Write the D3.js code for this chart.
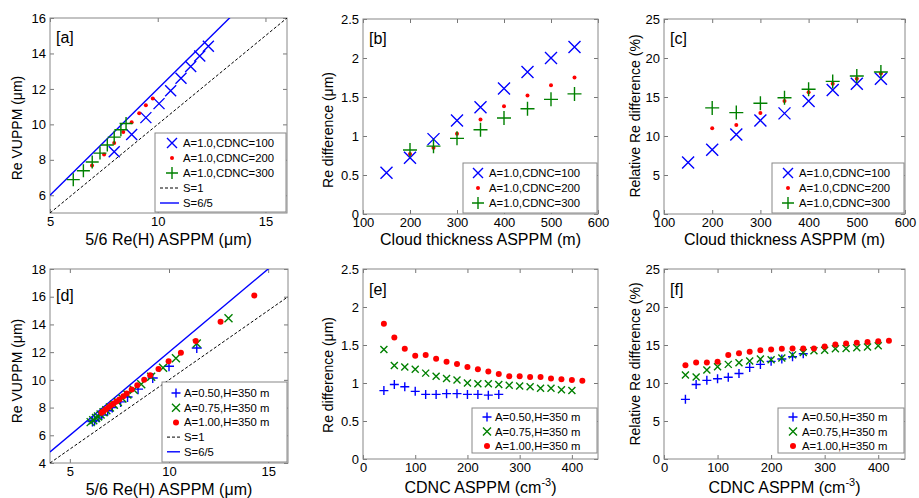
<!DOCTYPE html>
<html>
<head>
<meta charset="utf-8">
<script src="https://cdn.jsdelivr.net/npm/d3@7"></script>
<style>
  body { margin: 0; background: #fff; }
  svg { font-family: "Liberation Sans", Arial, sans-serif; }
</style>
</head>
<body>
<svg id="fig" width="919" height="498"></svg>
<script>
// ---- data ----
// top row: cloud thickness (m)
const thick100 = [150, 200, 250, 300, 350, 400, 450, 500, 550];
const thick200 = [200, 250, 300, 350, 400, 450, 500, 550];
const thick300 = [200, 250, 300, 350, 400, 450, 500, 550];

// [a] 5/6 Re(H) ASPPM vs Re VUPPM
const a100x = [7.98, 8.79, 9.45, 10.06, 10.60, 11.08, 11.53, 11.95, 12.35];
const a100y = [8.45, 9.43, 10.38, 11.17, 11.90, 12.60, 13.26, 13.85, 14.40];
const a200x = [6.95, 7.51, 7.98, 8.40, 8.79, 9.14, 9.45, 9.77];
const a200y = [7.68, 8.30, 8.95, 9.57, 10.12, 10.62, 11.08, 11.46];
const a300x = [6.08, 6.55, 6.96, 7.32, 7.66, 7.98, 8.29, 8.53];
const a300y = [6.88, 7.38, 7.88, 8.38, 8.84, 9.28, 9.70, 10.05];

// [b] Re difference (um)
const b100 = [0.53, 0.72, 0.96, 1.20, 1.37, 1.61, 1.82, 2.00, 2.14];
const b200 = [0.77, 0.85, 1.03, 1.21, 1.38, 1.52, 1.65, 1.75];
const b300 = [0.82, 0.87, 0.97, 1.08, 1.23, 1.35, 1.47, 1.54];

// [c] relative Re difference (%)
const c100 = [6.6, 8.25, 10.2, 12.0, 12.9, 14.5, 15.9, 16.7, 17.35];
const c200 = [11.0, 11.4, 12.95, 14.5, 15.6, 16.7, 17.35, 18.0];
const c300 = [13.6, 13.0, 14.2, 14.9, 16.0, 17.0, 17.7, 18.2];

// bottom row: CDNC (cm-3)
const cdnc50 = [40, 60, 80, 100, 120, 140, 160, 180, 200, 220, 240, 260];
const cdnc75 = [40, 60, 80, 100, 120, 140, 160, 180, 200, 220, 240, 260, 280, 300, 320, 340, 360, 380, 400];
const cdnc100 = [40, 60, 80, 100, 120, 140, 160, 180, 200, 220, 240, 260, 280, 300, 320, 340, 360, 380, 400, 420];

// [d]
const d50x = [11.40, 10.00, 9.18, 8.44, 7.91, 7.56, 7.14, 6.91, 6.61, 6.46, 6.25, 6.14];
const d50y = [12.30, 10.98, 10.13, 9.33, 8.76, 8.41, 8.00, 7.77, 7.46, 7.31, 7.09, 6.99];
const d75x = [13.00, 11.40, 10.35, 9.70, 9.10, 8.60, 8.22, 7.90, 7.65, 7.42, 7.22, 7.02, 6.84, 6.70, 6.55, 6.42, 6.32, 6.18, 6.05];
const d75y = [14.44, 12.63, 11.56, 10.88, 10.23, 9.69, 9.28, 8.94, 8.65, 8.41, 8.21, 8.00, 7.81, 7.66, 7.50, 7.35, 7.25, 7.09, 6.95];
const d100x = [14.30, 12.60, 11.35, 10.60, 9.98, 9.47, 9.05, 8.75, 8.40, 8.12, 7.87, 7.70, 7.50, 7.35, 7.20, 7.08, 6.96, 6.82, 6.70, 6.60];
const d100y = [16.08, 14.20, 12.80, 11.96, 11.35, 10.79, 10.33, 10.00, 9.61, 9.30, 9.02, 8.82, 8.59, 8.44, 8.28, 8.16, 8.02, 7.87, 7.74, 7.63];

// [e]
const e50 = [0.90, 0.98, 0.95, 0.89, 0.85, 0.85, 0.86, 0.86, 0.85, 0.85, 0.84, 0.85];
const e75 = [1.44, 1.23, 1.21, 1.18, 1.13, 1.09, 1.06, 1.04, 1.00, 0.99, 0.99, 0.98, 0.97, 0.96, 0.95, 0.93, 0.93, 0.91, 0.90];
const e100 = [1.78, 1.60, 1.45, 1.36, 1.37, 1.32, 1.28, 1.25, 1.21, 1.18, 1.15, 1.12, 1.09, 1.09, 1.08, 1.08, 1.06, 1.05, 1.04, 1.03];

// [f]
const f50 = [7.85, 9.8, 10.35, 10.55, 10.75, 11.25, 12.05, 12.45, 12.85, 13.15, 13.45, 13.85];
const f75 = [11.05, 10.8, 11.7, 12.15, 12.45, 12.65, 12.9, 13.15, 13.05, 13.3, 13.7, 14.0, 14.25, 14.3, 14.5, 14.55, 14.65, 14.75, 14.9];
const f100 = [12.35, 12.7, 12.7, 12.8, 13.7, 13.9, 14.1, 14.3, 14.4, 14.5, 14.55, 14.55, 14.55, 14.8, 15.05, 15.2, 15.3, 15.4, 15.5, 15.55];

// reference slopes (S=1, S=6/5)
const slopes = [1, 6 / 5];

// tick labels
const ticksA_x = [5, 10, 15], ticksA_y = [6, 8, 10, 12, 14, 16];
const ticksD_x = [5, 10, 15], ticksD_y = [4, 6, 8, 10, 12, 14, 16, 18];
const ticksThick = [100, 200, 300, 400, 500, 600];
const ticksCdnc = [0, 100, 200, 300, 400];
const ticksRe = [0, 0.5, 1, 1.5, 2, 2.5];
const ticksRel = [0, 5, 10, 15, 20, 25];

const legTop = ["A=1.0,CDNC=100", "A=1.0,CDNC=200", "A=1.0,CDNC=300"];
const legBot = ["A=0.50,H=350 m", "A=0.75,H=350 m", "A=1.00,H=350 m"];

const BLUE = "#0000ff", RED = "#ff0000", GREEN = "#008000";
const svg = d3.select("#fig");

function marker(g, type, cx, cy, s, color) {
    if (type === "x") {
        g.append("path").attr("d", `M${cx - s},${cy - s}L${cx + s},${cy + s}M${cx - s},${cy + s}L${cx + s},${cy - s}`)
            .attr("stroke", color).attr("stroke-width", 1.4).attr("fill", "none");
    } else if (type === "plus") {
        g.append("path").attr("d", `M${cx - s},${cy}L${cx + s},${cy}M${cx},${cy - s}L${cx},${cy + s}`)
            .attr("stroke", color).attr("stroke-width", 1.4).attr("fill", "none");
    } else {
        g.append("circle").attr("cx", cx).attr("cy", cy).attr("r", s).attr("fill", color);
    }
}

function panel(cfg, idx) {
    const { l, r, t, b } = cfg.box;
    const x = d3.scaleLinear().domain(cfg.xd).range([l, r]);
    const y = d3.scaleLinear().domain(cfg.yd).range([b, t]);
    const g = svg.append("g");

    // axes with inward ticks
    const fmt = d3.format("~g");
    g.append("g").attr("transform", `translate(0,${b})`)
        .call(d3.axisBottom(x).tickValues(cfg.xt).tickFormat(fmt).tickSizeInner(-4).tickSizeOuter(0).tickPadding(4));
    g.append("g").attr("transform", `translate(${l},0)`)
        .call(d3.axisLeft(y).tickValues(cfg.yt).tickFormat(fmt).tickSizeInner(-4).tickSizeOuter(0).tickPadding(4));
    g.append("g").attr("transform", `translate(0,${t})`)
        .call(d3.axisTop(x).tickValues(cfg.xt).tickFormat("").tickSizeInner(-4).tickSizeOuter(0));
    g.append("g").attr("transform", `translate(${r},0)`)
        .call(d3.axisRight(y).tickValues(cfg.yt).tickFormat("").tickSizeInner(-4).tickSizeOuter(0));
    g.selectAll(".domain").remove();
    g.selectAll(".tick line").attr("stroke", "#777");
    g.selectAll(".tick text").attr("font-size", 13).attr("fill", "#000")
        .attr("font-family", "Liberation Sans, Arial, sans-serif");
    g.append("rect").attr("x", l).attr("y", t).attr("width", r - l).attr("height", b - t)
        .attr("fill", "none").attr("stroke", "#888").attr("stroke-width", 1);

    // clip for reference lines
    const cid = "clip" + idx;
    g.append("clipPath").attr("id", cid).append("rect")
        .attr("x", l).attr("y", t).attr("width", r - l).attr("height", b - t);

    if (cfg.lines) {
        const lg = g.append("g").attr("clip-path", `url(#${cid})`);
        slopes.forEach((s, i) => {
            const x0 = cfg.xd[0], x1 = cfg.xd[1];
            lg.append("line")
                .attr("x1", x(x0)).attr("y1", y(s * x0)).attr("x2", x(x1)).attr("y2", y(s * x1))
                .attr("stroke", i === 0 ? "#000" : BLUE).attr("stroke-width", i === 0 ? 1 : 1.4)
                .attr("stroke-dasharray", i === 0 ? "3,2" : null);
        });
    }

    // series
    cfg.series.forEach(sr => {
        sr.xs.forEach((xv, i) => marker(g, sr.type, x(xv), y(sr.ys[i]), sr.size, sr.color));
    });

    // panel label
    g.append("text").attr("x", l + 6).attr("y", cfg.tagY).attr("font-size", 16).text(cfg.tag);

    // axis labels
    const xl = g.append("text").attr("x", (l + r) / 2).attr("y", cfg.xlY).attr("text-anchor", "middle")
        .attr("font-size", 16);
    cfg.xlabel(xl);
    g.append("text").attr("transform", `translate(${cfg.ylX},${cfg.ylC}) rotate(-90)`)
        .attr("text-anchor", "middle").attr("font-size", 14).text(cfg.ylabel);

    // legend
    const lgd = cfg.legend;
    g.append("rect").attr("x", lgd.x).attr("y", lgd.y).attr("width", r - 1 - lgd.x).attr("height", lgd.h)
        .attr("fill", "#fff").attr("stroke", "#888");
    lgd.items.forEach((it, i) => {
        const cy = lgd.y + lgd.pad + i * lgd.step;
        if (it.line) {
            g.append("line").attr("x1", lgd.x + 5).attr("x2", lgd.tx - 4).attr("y1", cy).attr("y2", cy)
                .attr("stroke", it.color).attr("stroke-width", it.dash ? 1 : 1.4)
                .attr("stroke-dasharray", it.dash ? "3,2" : null);
        } else {
            marker(g, it.type, lgd.mx, cy, it.size, it.color);
        }
        g.append("text").attr("x", lgd.tx).attr("y", cy + 4).attr("font-size", 11.3).text(it.label);
    });
}

const umLabel = s => t => t.text(s);
const cdncLabel = t => {
    t.append("tspan").text("CDNC ASPPM (cm");
    t.append("tspan").attr("font-size", 11).attr("dy", -7).text("-3");
    t.append("tspan").attr("dy", 7).text(")");
};

const topLegend = (x, mx, tx) => ({
    x: x, y: 163, h: 50, pad: 10, step: 15, mx: mx, tx: tx,
    items: [
        { type: "x", size: 5, color: BLUE, label: legTop[0] },
        { type: "dot", size: 2, color: RED, label: legTop[1] },
        { type: "plus", size: 6, color: GREEN, label: legTop[2] }
    ]
});
const botLegend = (x, mx, tx) => ({
    x: x, y: 408, h: 45, pad: 9, step: 14.5, mx: mx, tx: tx,
    items: [
        { type: "plus", size: 4.5, color: BLUE, label: legBot[0] },
        { type: "x", size: 4, color: GREEN, label: legBot[1] },
        { type: "dot", size: 3, color: RED, label: legBot[2] }
    ]
});

const panels = [
    {
        box: { l: 50, r: 287, t: 18, b: 213 }, xd: [5, 16], yd: [5, 16], xt: ticksA_x, yt: ticksA_y,
        tag: "[a]", tagY: 43, xlY: 245, ylX: 22, ylC: 128, lines: true,
        xlabel: umLabel("5/6 Re(H) ASPPM (\u03bcm)"), ylabel: "Re VUPPM (\u03bcm)",
        series: [
            { xs: a100x, ys: a100y, type: "x", size: 5.5, color: BLUE },
            { xs: a200x, ys: a200y, type: "dot", size: 2, color: RED },
            { xs: a300x, ys: a300y, type: "plus", size: 6.5, color: GREEN }
        ],
        legend: {
            x: 155, y: 133, h: 79, pad: 10, step: 15, mx: 172, tx: 183,
            items: [
                { type: "x", size: 5, color: BLUE, label: legTop[0] },
                { type: "dot", size: 2, color: RED, label: legTop[1] },
                { type: "plus", size: 6, color: GREEN, label: legTop[2] },
                { line: true, dash: true, color: "#000", label: "S=1" },
                { line: true, color: BLUE, label: "S=6/5" }
            ]
        }
    },
    {
        box: { l: 363, r: 598, t: 19, b: 214 }, xd: [100, 600], yd: [0, 2.5], xt: ticksThick, yt: ticksRe,
        tag: "[b]", tagY: 44, xlY: 245, ylX: 333, ylC: 130,
        xlabel: umLabel("Cloud thickness ASPPM (m)"), ylabel: "Re difference (\u03bcm)",
        series: [
            { xs: thick100, ys: b100, type: "x", size: 6, color: BLUE },
            { xs: thick200, ys: b200, type: "dot", size: 2, color: RED },
            { xs: thick300, ys: b300, type: "plus", size: 7, color: GREEN }
        ],
        legend: topLegend(463, 478, 489)
    },
    {
        box: { l: 664, r: 905, t: 19, b: 214 }, xd: [100, 600], yd: [0, 25], xt: ticksThick, yt: ticksRel,
        tag: "[c]", tagY: 44, xlY: 245, ylX: 640, ylC: 116,
        xlabel: umLabel("Cloud thickness ASPPM (m)"), ylabel: "Relative Re difference (%)",
        series: [
            { xs: thick100, ys: c100, type: "x", size: 6, color: BLUE },
            { xs: thick200, ys: c200, type: "dot", size: 2, color: RED },
            { xs: thick300, ys: c300, type: "plus", size: 7, color: GREEN }
        ],
        legend: topLegend(772, 788, 799)
    },
    {
        box: { l: 50, r: 288, t: 269, b: 463 }, xd: [4, 16], yd: [4, 18], xt: ticksD_x, yt: ticksD_y,
        tag: "[d]", tagY: 301, xlY: 495, ylX: 22, ylC: 371, lines: true,
        xlabel: umLabel("5/6 Re(H) ASPPM (\u03bcm)"), ylabel: "Re VUPPM (\u03bcm)",
        series: [
            { xs: d50x, ys: d50y, type: "plus", size: 5, color: BLUE },
            { xs: d75x, ys: d75y, type: "x", size: 4, color: GREEN },
            { xs: d100x, ys: d100y, type: "dot", size: 3, color: RED }
        ],
        legend: {
            x: 162, y: 382, h: 80, pad: 11, step: 14.7, mx: 176, tx: 184,
            items: [
                { type: "plus", size: 4.5, color: BLUE, label: legBot[0] },
                { type: "x", size: 4, color: GREEN, label: legBot[1] },
                { type: "dot", size: 3, color: RED, label: legBot[2] },
                { line: true, dash: true, color: "#000", label: "S=1" },
                { line: true, color: BLUE, label: "S=6/5" }
            ]
        }
    },
    {
        box: { l: 363, r: 598, t: 269, b: 459 }, xd: [0, 450], yd: [0, 2.5], xt: ticksCdnc, yt: ticksRe,
        tag: "[e]", tagY: 295, xlY: 493, ylX: 333, ylC: 375,
        xlabel: cdncLabel, ylabel: "Re difference (\u03bcm)",
        series: [
            { xs: cdnc50, ys: e50, type: "plus", size: 4.5, color: BLUE },
            { xs: cdnc75, ys: e75, type: "x", size: 3.5, color: GREEN },
            { xs: cdnc100, ys: e100, type: "dot", size: 3, color: RED }
        ],
        legend: botLegend(472, 487, 495)
    },
    {
        box: { l: 664, r: 905, t: 269, b: 459 }, xd: [0, 450], yd: [0, 25], xt: ticksCdnc, yt: ticksRel,
        tag: "[f]", tagY: 295, xlY: 493, ylX: 640, ylC: 364,
        xlabel: cdncLabel, ylabel: "Relative Re difference (%)",
        series: [
            { xs: cdnc50, ys: f50, type: "plus", size: 4.5, color: BLUE },
            { xs: cdnc75, ys: f75, type: "x", size: 3.5, color: GREEN },
            { xs: cdnc100, ys: f100, type: "dot", size: 3, color: RED }
        ],
        legend: botLegend(778, 793, 802)
    }
];

panels.forEach((p, i) => panel(p, i));
</script>
</body>
</html>
